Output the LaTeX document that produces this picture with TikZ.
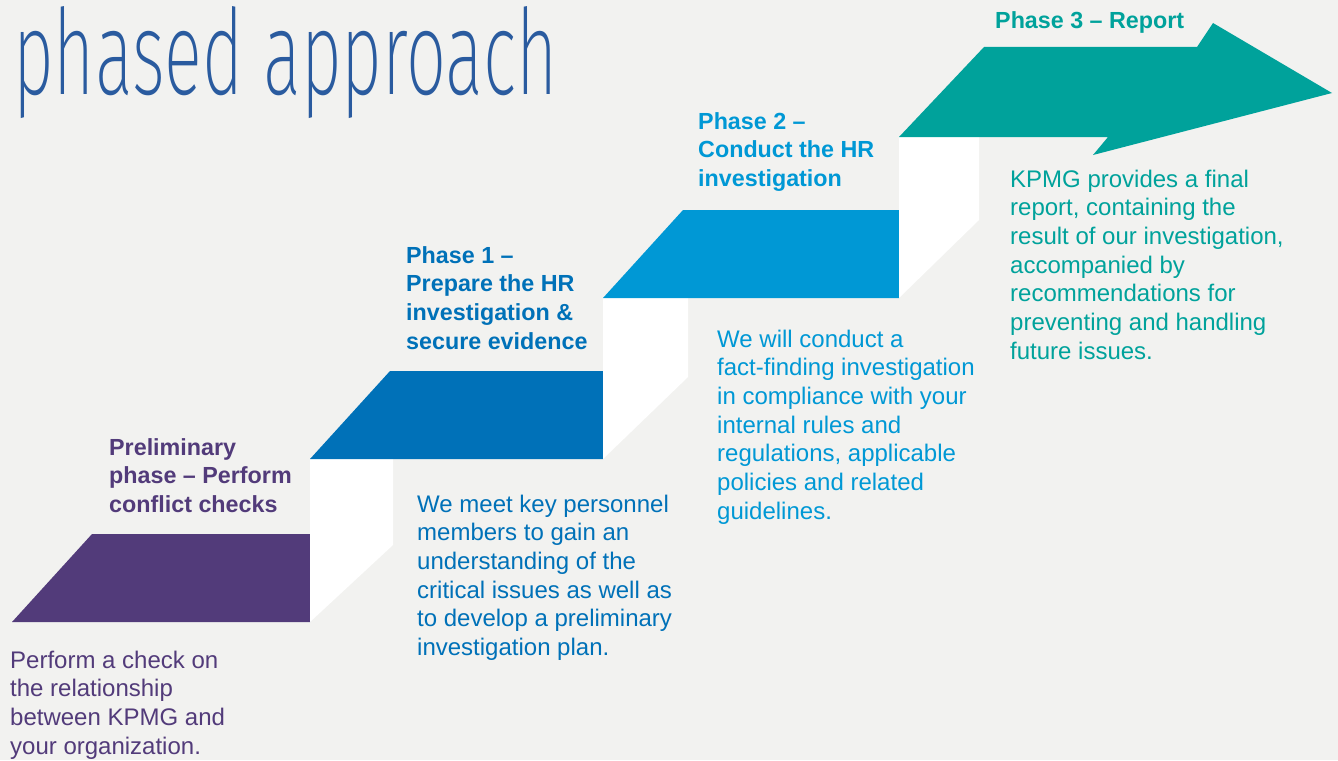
\documentclass[tikz,border=0pt]{standalone}
\usepackage{fontspec}
\usepackage{graphicx}
\setmainfont{Liberation Sans}
\setsansfont{Liberation Sans}
\IfFontExistsTF{Fira Sans ExtraLight}{\newfontfamily\titlefont{Fira Sans ExtraLight}}{%
  \IfFontExistsTF{Fira Sans Light}{\newfontfamily\titlefont{Fira Sans Light}}{\newfontfamily\titlefont{Liberation Sans}}}
\definecolor{bg}{HTML}{F2F2F0}
\definecolor{kpurple}{HTML}{523B7A}
\definecolor{kblue}{HTML}{0071B8}
\definecolor{kmid}{HTML}{0098D5}
\definecolor{kteal}{HTML}{00A29B}
\definecolor{ktitle}{HTML}{2A5B9F}
\begin{document}
\begin{tikzpicture}[x=1pt,y=-1pt,
  head/.style={anchor=base west, inner sep=0pt, align=left, font=\bfseries\fontsize{23.3}{28.7}\selectfont},
  body/.style={anchor=base west, inner sep=0pt, align=left, font=\fontsize{24}{28.7}\selectfont}]
\useasboundingbox[fill=bg] (0,0) rectangle (1338,760);
% steps
\fill[kpurple] (12,622) -- (92,534) -- (310,534) -- (310,622) -- cycle;
\fill[white] (310,459) -- (393,459) -- (393,545) -- (310,622) -- cycle;
\fill[kblue] (310,459) -- (390,371) -- (603,371) -- (603,459) -- cycle;
\fill[white] (603,298) -- (688,298) -- (688,377) -- (603,459) -- cycle;
\fill[kmid] (603,298) -- (683,210) -- (899,210) -- (899,298) -- cycle;
\fill[white] (899,137) -- (979,137) -- (979,220) -- (899,298) -- cycle;
\fill[kteal] (899,137) -- (984,47) -- (1197,47) -- (1213,23) -- (1332,93) -- (1093,155) -- (1108,137) -- cycle;
% title
\node[anchor=base west, inner sep=0pt, text=ktitle] (title) at (13,95) {\resizebox{544pt}{88pt}{\titlefont phased approach}};
% texts (anchor = baseline of last line)
\node[head, text=kpurple] (h0) at (109,512.4) {Preliminary\\phase – Perform\\conflict checks};
\node[body, text=kpurple] (b0) at (10,754.1) {Perform a check on\\the relationship\\between KPMG and\\your organization.};
\node[head, text=kblue] (h1) at (406,349.1) {Phase 1 –\\Prepare the HR\\investigation \&\\secure evidence};
\node[body, text=kblue] (b1) at (417,655.5) {We meet key personnel\\members to gain an\\understanding of the\\critical issues as well as\\to develop a preliminary\\investigation plan.};
\node[head, text=kmid] (h2) at (698,186.4) {Phase 2 –\\Conduct the HR\\investigation};
\node[body, text=kmid] (b2) at (717,519.2) {We will conduct a\\fact-finding investigation\\in compliance with your\\internal rules and\\regulations, applicable\\policies and related\\guidelines.};
\node[head, text=kteal] (h3) at (995,29) {Phase 3 – Report};
\node[body, text=kteal] (b3) at (1010,359.2) {KPMG provides a final\\report, containing the\\result of our investigation,\\accompanied by\\recommendations for\\preventing and handling\\future issues.};
\end{tikzpicture}
\end{document}
